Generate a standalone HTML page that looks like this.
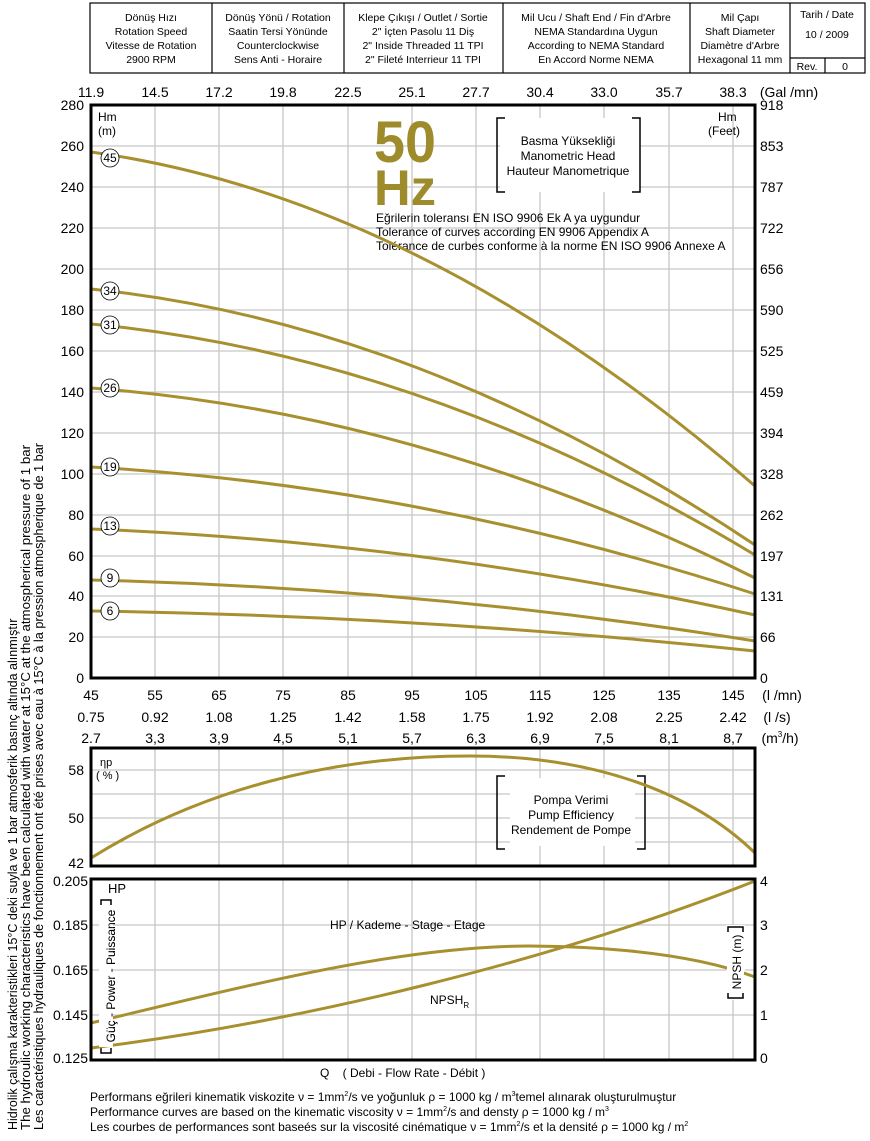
<!DOCTYPE html>
<html><head><meta charset="utf-8"><style>
body{margin:0;background:#fff;width:870px;height:1136px;overflow:hidden}
svg{font-family:"Liberation Sans","DejaVu Sans",sans-serif}
</style></head><body>
<svg width="870" height="1136" viewBox="0 0 870 1136" xmlns="http://www.w3.org/2000/svg">
<g stroke="#000" stroke-width="1.2" fill="none">
<rect x="90" y="3" width="775" height="70"/>
<line x1="212" y1="3" x2="212" y2="73"/><line x1="344" y1="3" x2="344" y2="73"/>
<line x1="503" y1="3" x2="503" y2="73"/><line x1="690" y1="3" x2="690" y2="73"/>
<line x1="790" y1="3" x2="790" y2="73"/><line x1="790" y1="58" x2="865" y2="58"/>
<line x1="825" y1="58" x2="825" y2="73"/>
</g>
<g font-size="10.5" text-anchor="middle" fill="#000">
<text x="151" y="21">Dönüş Hızı</text><text x="151" y="35">Rotation Speed</text><text x="151" y="49">Vitesse de Rotation</text><text x="151" y="63">2900 RPM</text>
<text x="278" y="21">Dönüş Yönü / Rotation</text><text x="278" y="35">Saatin Tersi Yönünde</text><text x="278" y="49">Counterclockwise</text><text x="278" y="63">Sens Anti - Horaire</text>
<text x="423" y="21">Klepe Çıkışı / Outlet / Sortie</text><text x="423" y="35">2" İçten Pasolu 11 Diş</text><text x="423" y="49">2" Inside Threaded 11 TPI</text><text x="423" y="63">2" Fileté Interrieur 11 TPI</text>
<text x="596" y="21">Mil Ucu / Shaft End / Fin d'Arbre</text><text x="596" y="35">NEMA Standardına Uygun</text><text x="596" y="49">According to NEMA Standard</text><text x="596" y="63">En Accord Norme NEMA</text>
<text x="740" y="21">Mil Çapı</text><text x="740" y="35">Shaft Diameter</text><text x="740" y="49">Diamètre d'Arbre</text><text x="740" y="63">Hexagonal 11 mm</text>
<text x="827" y="18">Tarih / Date</text><text x="827" y="38">10 / 2009</text><text x="807" y="70">Rev.</text><text x="845" y="70">0</text>
</g>
<g stroke="#c6c6c6" stroke-width="1.3">
<path d="M155 105V678M219 105V678M283 105V678M348 105V678M412 105V678M476 105V678M540 105V678M604 105V678M669 105V678M733 105V678"/>
<path d="M91 146H755M91 187H755M91 228H755M91 269H755M91 310H755M91 351H755M91 392H755M91 433H755M91 474H755M91 515H755M91 556H755M91 596H755M91 637H755"/>
<path d="M155 748V866M219 748V866M283 748V866M348 748V866M412 748V866M476 748V866M540 748V866M604 748V866M669 748V866M733 748V866"/>
<path d="M91 770H755M91 794H755M91 818H755M91 842H755"/>
<path d="M155 879V1060M219 879V1060M283 879V1060M348 879V1060M412 879V1060M476 879V1060M540 879V1060M604 879V1060M669 879V1060M733 879V1060"/>
<path d="M91 925H755M91 970H755M91 1015H755"/>
</g>
<rect x="500" y="118" width="140" height="74" fill="#fff"/>
<g stroke="#000" stroke-width="1.5" fill="none">
<path d="M505 118H497V192H505M632 118H640V192H632"/>
<path d="M505 776H497V849H505M637 776H645V849H637"/>
</g>
<rect x="510" y="778" width="125" height="68" fill="#fff"/>
<rect x="99" y="898" width="14" height="158" fill="#fff"/>
<rect x="726" y="925" width="19" height="75" fill="#fff"/>
<g stroke="#000" stroke-width="1.5" fill="none">
<path d="M101 905V900H111V905M101 1048V1053H111V1048"/>
<path d="M728 932V927H743V932M728 993V998H743V993"/>
</g>
<g font-size="12" text-anchor="middle">
<text x="568" y="145">Basma Yüksekliği</text><text x="568" y="160">Manometric Head</text><text x="568" y="175">Hauteur Manometrique</text>
<text x="571" y="804">Pompa Verimi</text><text x="571" y="819">Pump Efficiency</text><text x="571" y="834">Rendement de Pompe</text>
<text transform="translate(115,976) rotate(-90)" font-size="12">Güç - Power - Puissance</text>
<text transform="translate(741,962) rotate(-90)" font-size="12">NPSH (m)</text>
</g>
<g font-size="12">
<text x="376" y="222">Eğrilerin toleransı EN ISO 9906 Ek A ya uygundur</text>
<text x="376" y="236">Tolerance of curves according EN 9906 Appendix A</text>
<text x="376" y="250">Tolérance de curbes conforme à la norme EN ISO 9906 Annexe A</text>
</g>
<text x="374" y="162" font-size="58" font-weight="bold" fill="#9d8b2c" textLength="62" lengthAdjust="spacingAndGlyphs">50</text>
<text x="374" y="205" font-size="50" font-weight="bold" fill="#9d8b2c" textLength="62" lengthAdjust="spacingAndGlyphs">Hz</text>
<g font-size="12"><text x="98" y="121">Hm</text><text x="98" y="135">(m)</text>
<text x="718" y="121">Hm</text><text x="708" y="135">(Feet)</text>
<text x="100" y="766" font-size="11">ηp</text><text x="96" y="779" font-size="11">( % )</text>
<text x="108" y="893" font-size="13">HP</text>
<text x="330" y="929">HP / Kademe - Stage - Etage</text>
<text x="430" y="1004">NPSH<tspan font-size="8" dy="4">R</tspan></text>
</g>
<g stroke="#a8902f" stroke-width="3" fill="none">
<path d="M91 152Q423 198 755 486"/>
<path d="M91 289Q423 323 755 545"/>
<path d="M91 324Q423 355 755 555"/>
<path d="M91 388Q423 413 755 578"/>
<path d="M91 467Q423 486 755 594"/>
<path d="M91 529Q423 542 755 615"/>
<path d="M91 580Q423 588 755 641"/>
<path d="M91 611Q423 616 755 651"/>
<path d="M91 858C200 790 330 756 470 756C590 756 690 790 755 853"/>
<path d="M91 1048C300 1022 550 962 755 881"/>
<path d="M91 1023C250 985 400 946 530 946C640 947 710 960 755 977"/>
</g>
<rect x="99" y="906" width="14" height="141" fill="#fff"/>
<rect x="727" y="933" width="17" height="59" fill="#fff"/>
<g font-size="12" text-anchor="middle">
<text transform="translate(115,976) rotate(-90)">Güç - Power - Puissance</text>
<text transform="translate(741,962) rotate(-90)">NPSH (m)</text>
</g>
<g font-size="12" text-anchor="middle" stroke="#000" stroke-width="0.8" fill="#fff">
<circle cx="110" cy="158" r="9"/><circle cx="110" cy="291" r="9"/><circle cx="110" cy="325" r="9"/><circle cx="110" cy="388" r="9"/><circle cx="110" cy="467" r="9"/><circle cx="110" cy="526" r="9"/><circle cx="110" cy="578" r="9"/><circle cx="110" cy="611" r="9"/>
</g>
<g font-size="12" text-anchor="middle">
<text x="110" y="162">45</text><text x="110" y="295">34</text><text x="110" y="329">31</text><text x="110" y="392">26</text><text x="110" y="471">19</text><text x="110" y="530">13</text><text x="110" y="582">9</text><text x="110" y="615">6</text>
</g>
<g stroke="#000" stroke-width="3" fill="none">
<rect x="91" y="105" width="664" height="573"/>
<rect x="91" y="748" width="664" height="118"/>
<rect x="91" y="879" width="664" height="181"/>
</g>
<g font-size="14" text-anchor="middle">
<g transform="translate(0,97)"><text x="91">11.9</text><text x="155">14.5</text><text x="219">17.2</text><text x="283">19.8</text><text x="348">22.5</text><text x="412">25.1</text><text x="476">27.7</text><text x="540">30.4</text><text x="604">33.0</text><text x="669">35.7</text><text x="733">38.3</text></g>
<text x="789" y="97">(Gal /mn)</text>
<g transform="translate(0,700)"><text x="91">45</text><text x="155">55</text><text x="219">65</text><text x="283">75</text><text x="348">85</text><text x="412">95</text><text x="476">105</text><text x="540">115</text><text x="604">125</text><text x="669">135</text><text x="733">145</text></g>
<text x="782" y="700">(l /mn)</text>
<g transform="translate(0,722)"><text x="91">0.75</text><text x="155">0.92</text><text x="219">1.08</text><text x="283">1.25</text><text x="348">1.42</text><text x="412">1.58</text><text x="476">1.75</text><text x="540">1.92</text><text x="604">2.08</text><text x="669">2.25</text><text x="733">2.42</text></g>
<text x="777" y="722">(l /s)</text>
<g transform="translate(0,743)"><text x="91">2.7</text><text x="155">3,3</text><text x="219">3,9</text><text x="283">4,5</text><text x="348">5,1</text><text x="412">5,7</text><text x="476">6,3</text><text x="540">6,9</text><text x="604">7,5</text><text x="669">8,1</text><text x="733">8,7</text></g>
<text x="780" y="743">(m<tspan font-size="8" dy="-6">3</tspan><tspan dy="6">/h)</tspan></text>
</g>
<g font-size="14" text-anchor="end">
<text x="84" y="110">280</text><text x="84" y="151">260</text><text x="84" y="192">240</text><text x="84" y="233">220</text><text x="84" y="274">200</text><text x="84" y="315">180</text><text x="84" y="356">160</text><text x="84" y="397">140</text><text x="84" y="438">120</text><text x="84" y="479">100</text><text x="84" y="520">80</text><text x="84" y="561">60</text><text x="84" y="601">40</text><text x="84" y="642">20</text><text x="84" y="683">0</text>
<text x="84" y="775">58</text><text x="84" y="823">50</text><text x="84" y="868">42</text>
<text x="88" y="886">0.205</text><text x="88" y="930">0.185</text><text x="88" y="975">0.165</text><text x="88" y="1020">0.145</text><text x="88" y="1063">0.125</text>
</g>
<g font-size="14">
<text x="760" y="110">918</text><text x="760" y="151">853</text><text x="760" y="192">787</text><text x="760" y="233">722</text><text x="760" y="274">656</text><text x="760" y="315">590</text><text x="760" y="356">525</text><text x="760" y="397">459</text><text x="760" y="438">394</text><text x="760" y="479">328</text><text x="760" y="520">262</text><text x="760" y="561">197</text><text x="760" y="601">131</text><text x="760" y="642">66</text><text x="760" y="683">0</text>
<text x="760" y="886">4</text><text x="760" y="930">3</text><text x="760" y="975">2</text><text x="760" y="1020">1</text><text x="760" y="1063">0</text>
</g>
<text x="320" y="1077" font-size="12">Q&#160;&#160;&#160;&#160;( Debi - Flow Rate - Débit )</text>
<g font-size="12">
<text x="90" y="1101">Performans eğrileri kinematik viskozite ν = 1mm<tspan font-size="7" dy="-5">2</tspan><tspan dy="5">/s ve yoğunluk ρ = 1000 kg / m</tspan><tspan font-size="7" dy="-5">3</tspan><tspan dy="5">temel alınarak oluşturulmuştur</tspan></text>
<text x="90" y="1116">Performance curves are based on the kinematic viscosity ν = 1mm<tspan font-size="7" dy="-5">2</tspan><tspan dy="5">/s and densty ρ = 1000 kg / m</tspan><tspan font-size="7" dy="-5">3</tspan></text>
<text x="90" y="1131">Les courbes de performances sont baseés sur la viscosité cinématique ν = 1mm<tspan font-size="7" dy="-5">2</tspan><tspan dy="5">/s et la densité ρ = 1000 kg / m</tspan><tspan font-size="7" dy="-5">2</tspan></text>
</g>
<g font-size="12.5">
<text transform="translate(17,1130) rotate(-90)">Hidrolik çalışma karakteristikleri 15°C deki suyla ve 1 bar atmosferik basınç altında alınmıştır</text>
<text transform="translate(30,1130) rotate(-90)" textLength="685" lengthAdjust="spacingAndGlyphs">The hydroulic working characteristics have been calculated with water at 15°C at the atmospherical pressure of 1 bar</text>
<text transform="translate(43,1130) rotate(-90)" textLength="687" lengthAdjust="spacingAndGlyphs">Les caractéristiques hydrauliques de fonctionnement ont été prises avec eau à 15°C à la pression atmospherique de 1 bar</text>
</g>
</svg>
</body></html>
